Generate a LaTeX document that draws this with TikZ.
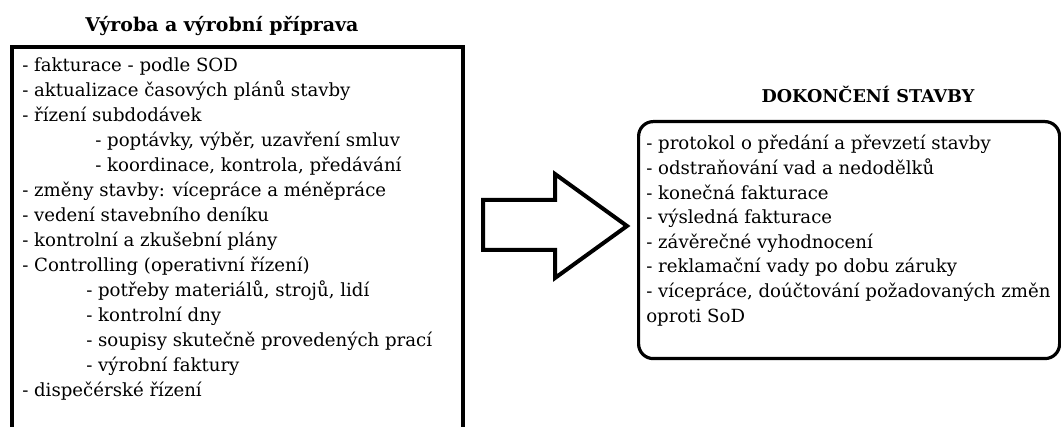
\documentclass[tikz,border=0pt]{standalone}
\usepackage{fontspec}
\setmainfont{DejaVu Serif}
\newcommand\itemfont{\fontsize{13.6}{16}\selectfont}
\newcommand\headfont{\fontsize{14.2}{16}\selectfont\bfseries}
\newcommand\capsheadfont{\fontsize{13.2}{16}\selectfont\bfseries}
\begin{document}
\begin{tikzpicture}[x=0.75pt,y=-0.75pt]
\tikzset{
  frame/.style={draw, line width=3pt, inner sep=0pt, anchor=north west},
  roundframe/.style={draw, line width=2.4pt, rounded corners=11pt, inner sep=0pt, anchor=north west},
  item/.style={anchor=base west, inner sep=0pt, font=\itemfont},
  heading/.style={anchor=base, inner sep=0pt, font=\headfont},
  bigarrow/.style={draw, line width=3pt, line join=miter, fill=white},
}
\useasboundingbox (0,0) rectangle (1061,427);

% production box (its lower edge runs past the page)
\node[heading] (prodtitle) at (222,32) {Výroba a výrobní příprava};
\node[frame, minimum width=338.25pt, minimum height=330pt] (prod) at (10,45) {};
\foreach \dx/\txt [count=\i] in {
  22/{- fakturace - podle SOD},
  22/{- aktualizace časových plánů stavby},
  22/{- řízení subdodávek},
  95/{- poptávky, výběr, uzavření smluv},
  95/{- koordinace, kontrola, předávání},
  22/{- změny stavby: vícepráce a méněpráce},
  22/{- vedení stavebního deníku},
  22/{- kontrolní a zkušební plány},
  22/{- Controlling (operativní řízení)},
  86/{- potřeby materiálů, strojů, lidí},
  86/{- kontrolní dny},
  86/{- soupisy skutečně provedených prací},
  86/{- výrobní faktury},
  22/{- dispečérské řízení}}
  \node[item] (p\i) at (\dx, {72+25*(\i-1)}) {\txt};

% arrow
\draw[bigarrow] (483,200) -- (555,200) -- (555,174) -- (627,226)
  -- (555,278) -- (555,250) -- (483,250) -- cycle;

% completion box
\node[heading, font=\capsheadfont] (donetitle) at (868,103) {DOKONČENÍ STAVBY};
\node[roundframe, minimum width=315.75pt, minimum height=177.75pt] (done) at (637,120) {};
\foreach \txt [count=\i] in {
  {- protokol o předání a převzetí stavby},
  {- odstraňování vad a nedodělků},
  {- konečná fakturace},
  {- výsledná fakturace},
  {- závěrečné vyhodnocení},
  {- reklamační vady po dobu záruky},
  {- vícepráce, doúčtování požadovaných změn},
  {oproti SoD}}
  \node[item] (d\i) at (646, {150+24.6*(\i-1)}) {\txt};
\end{tikzpicture}
\end{document}
